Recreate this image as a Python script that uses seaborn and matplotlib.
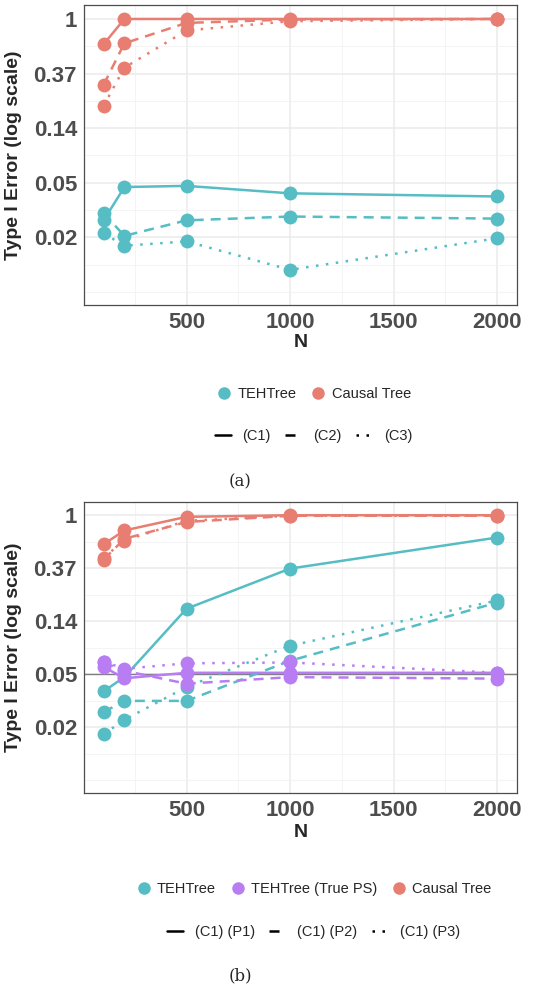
import numpy as np
import pandas as pd
import matplotlib
matplotlib.use('Agg')
import matplotlib.pyplot as plt
from matplotlib.lines import Line2D
from matplotlib.ticker import NullFormatter
import seaborn as sns

sns.set_style('white')
plt.rcParams['font.family'] = ['Liberation Sans', 'DejaVu Sans']

# sample sizes
N = [100, 200, 500, 1000, 2000]

# panel (a): type I error by condition
a_teh_c1 = [0.025, 0.046, 0.047, 0.041, 0.0387]
a_teh_c2 = [0.0285, 0.0188, 0.025, 0.0268, 0.0258]
a_teh_c3 = [0.0197, 0.0157, 0.017, 0.0101, 0.018]
a_ct_c1 = [0.63, 1.0, 1.0, 1.0, 1.0]
a_ct_c2 = [0.30, 0.64, 0.93, 0.99, 1.0]
a_ct_c3 = [0.204, 0.41, 0.81, 0.96, 1.0]

# panel (b): type I error by propensity setting
b_teh_p1 = [0.036, 0.047, 0.171, 0.365, 0.656]
b_teh_p2 = [0.0243, 0.030, 0.030, 0.064, 0.192]
b_teh_p3 = [0.016, 0.021, 0.039, 0.085, 0.20]
b_ps_p1 = [0.057, 0.046, 0.051, 0.051, 0.051]
b_ps_p2 = [0.062, 0.053, 0.0415, 0.047, 0.0457]
b_ps_p3 = [0.063, 0.055, 0.061, 0.062, 0.051]
b_ct_p1 = [0.578, 0.75, 0.97, 1.0, 1.0]
b_ct_p2 = [0.433, 0.64, 0.88, 0.99, 0.99]
b_ct_p3 = [0.45, 0.62, 0.90, 0.99, 0.99]

methods_a = ['TEHTree', 'Causal Tree']
conds_a = ['(C1)', '(C2)', '(C3)']
methods_b = ['TEHTree', 'TEHTree (True PS)', 'Causal Tree']
conds_b = ['(C1) (P1)', '(C1) (P2)', '(C1) (P3)']

colors = {'TEHTree': '#55BDC3', 'TEHTree (True PS)': '#B97DF3', 'Causal Tree': '#E87D72'}

def long_df(series, methods, conds):
    rows = []
    for m, vals_list in zip(methods, series):
        for c, vals in zip(conds, vals_list):
            for n, v in zip(N, vals):
                rows.append({'N': n, 'err': v, 'method': m, 'cond': c})
    return pd.DataFrame(rows)

df_a = long_df([[a_teh_c1, a_teh_c2, a_teh_c3], [a_ct_c1, a_ct_c2, a_ct_c3]], methods_a, conds_a)
df_b = long_df([[b_teh_p1, b_teh_p2, b_teh_p3], [b_ps_p1, b_ps_p2, b_ps_p3],
                [b_ct_p1, b_ct_p2, b_ct_p3]], methods_b, conds_b)

dash_styles = ['', (4, 2.8), (1, 3)]
ylabels = ['1', '0.37', '0.14', '0.05', '0.02']
yticks = [np.exp(-k) for k in range(5)]
yminor = [np.exp(-k - 0.5) for k in range(5)] + [np.exp(-5)]

fig = plt.figure(figsize=(5.43, 9.89), dpi=100)
ax_a = fig.add_axes([0.1547, 0.6916, 0.797, 0.3033])
ax_b = fig.add_axes([0.1547, 0.1985, 0.797, 0.2942])


def draw(ax, df, methods, conds, xlab_y, hline=False):
    sns.lineplot(data=df, x='N', y='err', hue='method', style='cond',
                 hue_order=methods, style_order=conds,
                 palette=colors, dashes=dict(zip(conds, dash_styles)),
                 markers=dict(zip(conds, ['o'] * 3)), markersize=10,
                 markeredgewidth=0, linewidth=1.8, legend=False, ax=ax)
    ax.set_yscale('log')
    ax.set_xlim(5, 2095)
    ax.set_ylim(np.exp(-5.24), np.exp(0.255))
    ax.set_yticks(yticks)
    ax.set_yticklabels(ylabels)
    ax.set_yticks(yminor, minor=True)
    ax.yaxis.set_minor_formatter(NullFormatter())
    ax.set_xticks([500, 1000, 1500, 2000])
    ax.set_xticks([250, 750, 1250, 1750], minor=True)
    ax.grid(which='major', color='#EBEBEB', linewidth=1.1, zorder=0)
    ax.grid(which='minor', color='#F2F2F2', linewidth=0.6, zorder=0)
    ax.set_axisbelow(True)
    if hline:
        ax.axhline(0.05, color='#7F7F7F', linewidth=1.0, zorder=1)
    for s in ax.spines.values():
        s.set_color('#4D4D4D')
        s.set_linewidth(0.9)
    ax.tick_params(which='major', length=3, width=0.8, color='#333333',
                   labelsize=16, labelcolor='#4D4D4D', pad=2)
    ax.tick_params(which='minor', length=0)
    for lab in ax.get_xticklabels() + ax.get_yticklabels():
        lab.set_fontweight('bold')
    ax.set_xlabel('N', fontsize=14, fontweight='bold')
    ax.set_ylabel('Type I Error (log scale)', fontsize=14, fontweight='bold')
    ax.yaxis.set_label_coords(-0.143, 0.5)
    ax.xaxis.set_label_coords(0.5, xlab_y)


draw(ax_a, df_a, methods_a, conds_a, -0.097)
draw(ax_b, df_b, methods_b, conds_b, -0.108, hline=True)


def add_legends(methods, conds, y1, y2):
    h1 = [Line2D([], [], marker='o', linestyle='', color=colors[m], markersize=9,
                 markeredgewidth=0) for m in methods]
    fig.legend(h1, methods, loc='center', bbox_to_anchor=(0.577, y1), ncol=len(methods),
               frameon=False, fontsize=10.5, handletextpad=0.3, columnspacing=0.9,
               handlelength=1.2)
    lstyles = ['-', (0, (4, 2.8)), (0, (1, 3))]
    h2 = [Line2D([], [], color='black', linewidth=1.8, linestyle=ls) for ls in lstyles]
    fig.legend(h2, conds, loc='center', bbox_to_anchor=(0.577, y2), ncol=len(conds),
               frameon=False, fontsize=10.5, handletextpad=0.8, columnspacing=1.0,
               handlelength=1.1)


add_legends(methods_a, conds_a, 1 - 394 / 989, 1 - 436 / 989)
add_legends(methods_b, conds_b, 1 - 889 / 989, 1 - 932 / 989)

fig.text(240 / 543, 1 - 482 / 989, '(a)', ha='center', va='center', fontsize=12,
         family='DejaVu Serif')
fig.text(240 / 543, 1 - 976 / 989, '(b)', ha='center', va='center', fontsize=12,
         family='DejaVu Serif')

fig.savefig('out.png', dpi=100)
